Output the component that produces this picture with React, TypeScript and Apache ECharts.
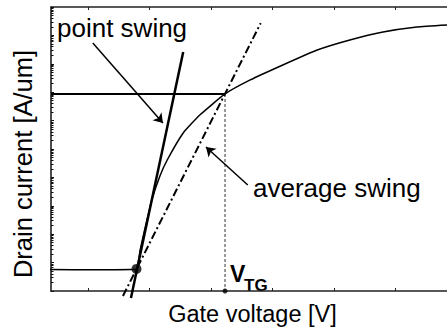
import React, { useEffect, useRef } from "react";
import * as echarts from "echarts";

// Transfer characteristic (log drain current vs gate voltage)
const curveVoltage = [-0.75, 0.2, 0.78, 0.85, 0.93, 1.04, 1.17, 1.29, 1.55, 1.82, 2.23, 2.64, 3.17, 3.73, 4.26, 4.8, 5.35, 5.84];
const curveCurrent = [5.7e-14, 5.6e-14, 5.8e-14, 2.8e-13, 1.65e-12, 1.6e-11, 1.1e-10, 4.1e-10, 3.66e-9, 1.57e-8, 8.65e-8, 2.7e-7, 9.1e-7, 3.06e-6, 6.9e-6, 1.32e-5, 1.98e-5, 2.32e-5];

// Tangent at the onset point ("point swing")
const pointSwingVoltage = [0.7, 1.55];
const pointSwingCurrent = [5.7e-15, 2.6e-6];

// Chord from onset to threshold ("average swing")
const avgSwingVoltage = [0.57, 2.81];
const avgSwingCurrent = [6.7e-15, 2.7e-5];

// Onset point and threshold
const onsetVoltage = 0.79;
const onsetCurrent = 6e-14;
const thresholdVoltage = 2.23;
const thresholdCurrent = 8.65e-8;

// Axis ranges and ticks
const xMin = -0.6;
const xMax = 5.84;
const xTicks = [0, 1, 2, 3, 4, 5];
const yMin = 1e-14;
const yMax = 1e-4;

// Annotation arrows: [startV, startI, endV, endI]
const pointArrow = [0.08, 5.4e-6, 1.22, 8.2e-9];
const avgArrow = [2.6, 5.4e-11, 1.92, 1.17e-9];

const FONT = '"Liberation Sans", Arial, Helvetica, sans-serif';

export default function App() {
  const ref = useRef<HTMLDivElement>(null);

  useEffect(() => {
    if (!ref.current) return;
    const chart = echarts.init(ref.current, undefined, { renderer: "svg" });

    const xAxisBase = (position: "top" | "bottom") => ({
      type: "value",
      position,
      min: xMin,
      max: xMax,
      axisLine: { show: true, onZero: false, lineStyle: { color: "#222", width: 1.5 } },
      axisTick: { show: true, inside: true, length: 3, customValues: xTicks, lineStyle: { color: "#222", width: 1 } },
      axisLabel: { show: false },
      splitLine: { show: false },
    });

    const lineSeries = (name: string, xs: number[], ys: number[], lineStyle: any, extra: any = {}) => ({
      name,
      type: "line",
      data: xs.map((x, i) => [x, ys[i]]),
      showSymbol: false,
      symbol: "none",
      clip: false,
      lineStyle: { color: "#000", ...lineStyle },
      z: 3,
      ...extra,
    });

    chart.setOption({
      animation: false,
      grid: { left: 51, right: 0, top: 7, bottom: 40 },
      xAxis: [xAxisBase("bottom"), xAxisBase("top")],
      yAxis: {
        type: "log",
        logBase: 10,
        min: yMin,
        max: yMax,
        interval: 1,
        axisLine: { show: true, onZero: false, lineStyle: { color: "#111", width: 1.5 } },
        axisTick: { show: true, inside: true, length: 3, lineStyle: { color: "#111", width: 1 } },
        minorTick: { show: true, splitNumber: 9, length: 2.5, lineStyle: { color: "#111", width: 1 } },
        axisLabel: { show: false },
        splitLine: { show: false },
      },
      series: [
        lineSeries("curve", curveVoltage, curveCurrent, { width: 1.5 }, { smooth: 0.15 }),
        lineSeries("threshold level", [xMin, thresholdVoltage], [thresholdCurrent, thresholdCurrent], { width: 2 }),
        lineSeries("threshold voltage", [thresholdVoltage, thresholdVoltage], [thresholdCurrent, yMin], { width: 1, type: [3, 2], color: "#333" }),
        lineSeries("point swing", pointSwingVoltage, pointSwingCurrent, { width: 2.5 }),
        lineSeries("average swing", avgSwingVoltage, avgSwingCurrent, { width: 2, type: [8, 3, 2, 3] }),
        {
          type: "scatter",
          data: [[onsetVoltage, onsetCurrent]],
          symbolSize: 10,
          itemStyle: { color: "#000" },
          clip: false,
          z: 5,
        },
        {
          type: "scatter",
          data: [[thresholdVoltage, yMin]],
          symbolSize: 5,
          itemStyle: { color: "#000" },
          clip: false,
          z: 5,
        },
        {
          type: "lines",
          coordinateSystem: "cartesian2d",
          symbol: ["none", "arrow"],
          symbolSize: 9,
          lineStyle: { color: "#000", width: 1.5, opacity: 1 },
          data: [
            { coords: [[pointArrow[0], pointArrow[1]], [pointArrow[2], pointArrow[3]]] },
            { coords: [[avgArrow[0], avgArrow[1]], [avgArrow[2], avgArrow[3]]] },
          ],
          z: 4,
        },
      ],
      graphic: [
        {
          type: "text",
          x: 57,
          y: 28,
          style: { text: "point swing", font: `26px ${FONT}`, fill: "#000", verticalAlign: "middle" },
        },
        {
          type: "text",
          x: 253,
          y: 188,
          style: { text: "average swing", font: `26px ${FONT}`, fill: "#000", verticalAlign: "middle" },
        },
        {
          type: "text",
          x: 252.5,
          y: 314,
          style: { text: "Gate voltage [V]", font: `23.5px ${FONT}`, fill: "#000", align: "center", verticalAlign: "middle" },
        },
        {
          type: "text",
          x: 23,
          y: 164,
          rotation: Math.PI / 2,
          style: { text: "Drain current [A/um]", font: `25.5px ${FONT}`, fill: "#000", align: "center", verticalAlign: "middle" },
        },
        {
          type: "text",
          x: 230,
          y: 274,
          style: { text: "V", font: `bold 23px ${FONT}`, fill: "#000", verticalAlign: "middle" },
        },
        {
          type: "text",
          x: 244,
          y: 285,
          style: { text: "TG", font: `bold 17px ${FONT}`, fill: "#000", verticalAlign: "middle" },
        },
      ],
    });

    return () => chart.dispose();
  }, []);

  return (
    <div
      ref={ref}
      style={{ position: "fixed", left: 0, top: 0, width: 447, height: 331, background: "#fff" }}
    />
  );
}
